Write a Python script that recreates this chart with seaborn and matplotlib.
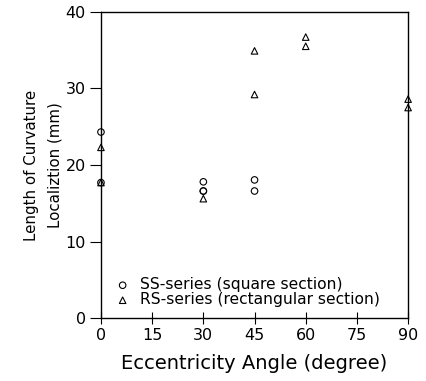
import pandas as pd
import numpy as np
import seaborn as sns
import matplotlib.pyplot as plt
import matplotlib.ticker as ticker

# values
ss_angle = [0, 0, 30, 30, 30, 45, 45]
ss_length = [24.3, 17.7, 17.8, 16.6, 16.6, 18.05, 16.6]
rs_angle = [0, 0, 30, 45, 45, 60, 60, 90, 90]
rs_length = [22.3, 17.7, 15.6, 34.9, 29.2, 36.7, 35.5, 28.6, 27.5]

ss = pd.DataFrame({'angle': ss_angle, 'length': ss_length})
rs = pd.DataFrame({'angle': rs_angle, 'length': rs_length})

sns.set_style("ticks")
plt.rcParams['font.family'] = ['DejaVu Sans']
for k in ['text.color', 'axes.labelcolor', 'xtick.color', 'ytick.color']:
    plt.rcParams[k] = 'black'

fig = plt.figure(figsize=(4.26, 3.81), dpi=100)
ax = fig.add_axes([0.237, 0.165, 0.721, 0.804])

sns.scatterplot(data=ss, x='angle', y='length', marker='o', s=22,
                facecolors='none', edgecolor='black', linewidth=0.8,
                label='SS-series (square section)', ax=ax, clip_on=False)
sns.scatterplot(data=rs, x='angle', y='length', marker='^', s=22,
                facecolors='none', edgecolor='black', linewidth=0.8,
                label='RS-series (rectangular section)', ax=ax, clip_on=False)

ax.set_xlim(0, 90)
ax.set_ylim(0, 40)
ax.xaxis.set_major_locator(ticker.MultipleLocator(15))
ax.yaxis.set_major_locator(ticker.MultipleLocator(10))
ax.xaxis.set_major_formatter(ticker.FormatStrFormatter('%d'))
ax.yaxis.set_major_formatter(ticker.FormatStrFormatter('%d'))
ax.tick_params(axis='x', direction='inout', length=8, width=0.8, labelsize=11.5, pad=3)
ax.tick_params(axis='y', direction='out', length=8, width=0.8, labelsize=11.5, pad=3)
for sp in ax.spines.values():
    sp.set_visible(True)
    sp.set_linewidth(1.0)
    sp.set_color('black')

ax.set_xlabel("Eccentricity Angle (degree)", fontsize=14, labelpad=8)
ax.set_ylabel("Length of Curvature\nLocaliztion (mm)", fontsize=10.8, labelpad=2,
              linespacing=1.75)

leg = ax.legend(loc='lower left', frameon=False, fontsize=11.2,
                handletextpad=0.6, borderaxespad=0.0, labelspacing=0.0,
                handlelength=1.0, bbox_to_anchor=(0.025, 0.015))

fig.savefig('out.png', dpi=100)
